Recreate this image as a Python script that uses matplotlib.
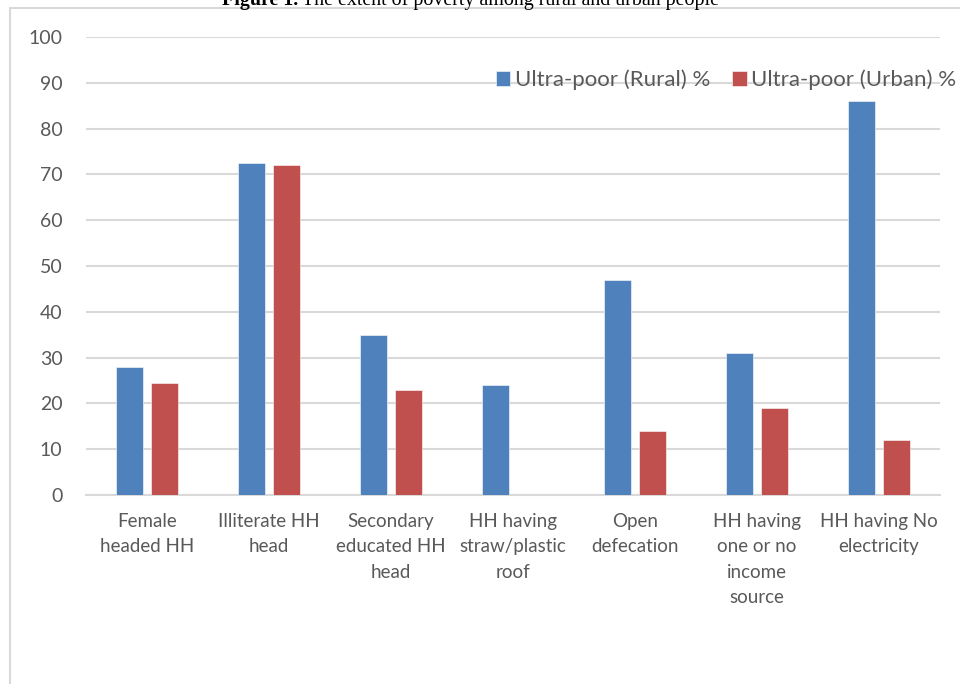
import numpy as np
import matplotlib.pyplot as plt
from matplotlib.patches import Rectangle

categories = ["Female\nheaded HH", "Illiterate HH\nhead", "Secondary\neducated HH\nhead",
              "HH having\nstraw/plastic\nroof", "Open\ndefecation",
              "HH having\none or no\nincome\nsource", "HH having No\nelectricity"]
rural = [28, 72.5, 35, 24, 47, 31, 86]
urban = [24.5, 72, 23, 0, 14, 19, 12]
yticks = list(range(0, 101, 10))

blue = "#4F81BD"
red = "#C0504D"
grey = "#595959"
grid = "#D9D9D9"

fig = plt.figure(figsize=(9.6, 6.84), dpi=100)
ax = fig.add_axes([86/960, 1 - 495/684, (940 - 86)/960, (495 - 37)/684])

x = np.arange(len(categories))
w = 0.225
ax.bar(x - 0.143, rural, w, color=blue, edgecolor="white", linewidth=0.4,
       label="Ultra-poor (Rural) %", zorder=3)
ax.bar(x + 0.143, urban, w, color=red, edgecolor="white", linewidth=0.4,
       label="Ultra-poor (Urban) %", zorder=3)

ax.set_xlim(-0.5, len(categories) - 0.5)
ax.set_ylim(0, 100)
ax.set_yticks(yticks)
ax.set_xticks(x)
ax.set_xticklabels(categories, fontsize=13.5, color=grey, family="Lato", linespacing=1.6)
ax.tick_params(axis="y", length=0, pad=17, labelsize=14, labelcolor=grey)
ax.tick_params(axis="x", length=0, pad=13)
for lab in ax.get_yticklabels():
    lab.set_family("Lato")
ax.grid(axis="y", color=grid, linewidth=1.5, zorder=0)
for s in ["top", "right", "left"]:
    ax.spines[s].set_visible(False)
ax.spines["bottom"].set_color(grid)
ax.spines["bottom"].set_linewidth(1.5)

leg = ax.legend(loc="center left", bbox_to_anchor=(410/854, (495 - 80)/458), ncol=2, frameon=False,
                prop={"family": "Lato", "size": 16}, handlelength=0.65, handleheight=0.65,
                handletextpad=0.2, columnspacing=1.0, borderaxespad=0, borderpad=0)
for t in leg.get_texts():
    t.set_color(grey)

# outer chart frame (left and top edges)
fig.patches.append(Rectangle((10/960, -0.1), 1.2, 1 - 8/684 + 0.1, transform=fig.transFigure,
                             fill=False, edgecolor=grid, linewidth=1.5))

# caption, cut by the top edge as in the source
t1 = fig.text(222/960, 1 - 5/684, "Figure 1.", ha="left", va="baseline",
              family="Liberation Serif", fontweight="bold", fontsize=14.4)
fig.canvas.draw()
bb = t1.get_window_extent()
fig.text(bb.x1/960 + 4/960, 1 - 5/684, "The extent of poverty among rural and urban people",
         ha="left", va="baseline", family="Liberation Serif", fontsize=14.4)

fig.savefig("out.png", dpi=100)
